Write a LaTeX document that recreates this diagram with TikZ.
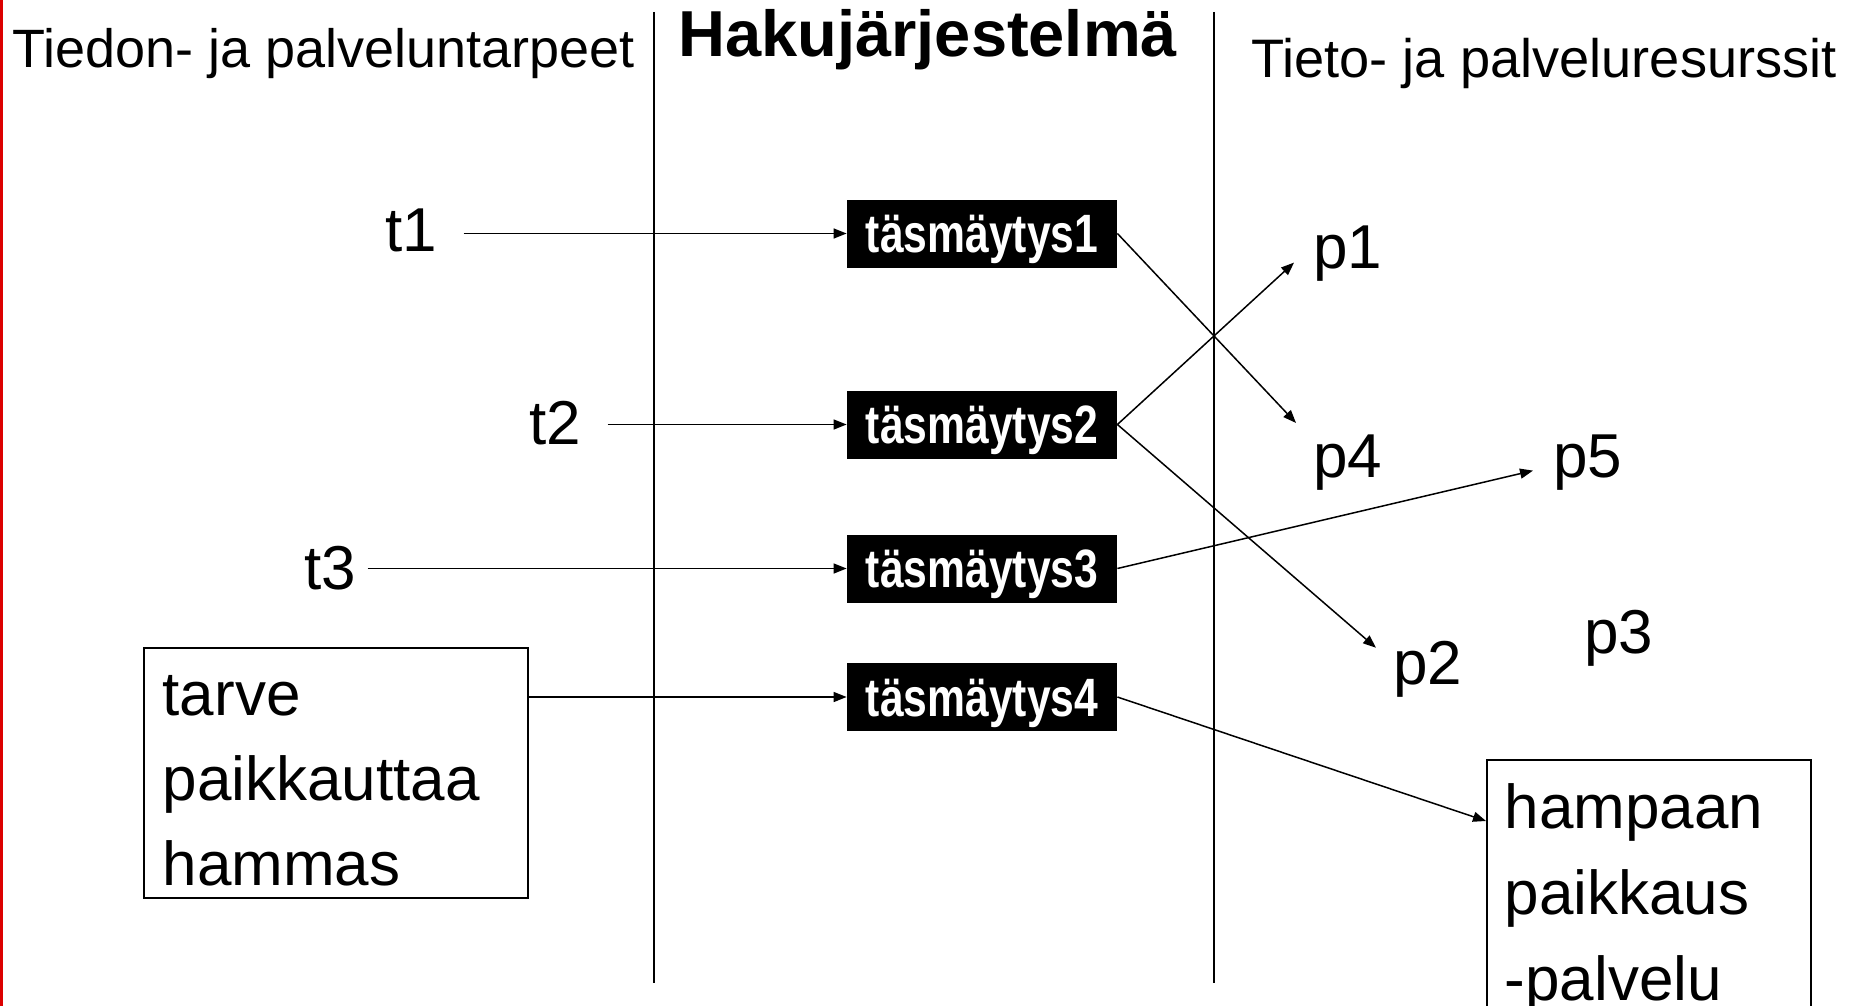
\documentclass[tikz,border=0pt]{standalone}
\usepackage{fontspec}
\setmainfont{Liberation Sans}
\usetikzlibrary{arrows.meta,calc}
\newcommand{\boxtxt}[1]{\scalebox{0.79}[1]{#1}}
\begin{document}
\begin{tikzpicture}[x=0.5pt,y=-0.5pt,
  lbl/.style={font=\fontsize{31}{37}\selectfont, inner sep=0pt, anchor=base west},
  hdr/.style={inner sep=0pt, anchor=base west},
  match/.style={fill=black, text=white, minimum width=135pt, minimum height=34pt, inner sep=0pt,
    text height=22pt, text depth=3pt,
    font=\fontsize{27}{30}\selectfont\bfseries},
  arr/.style={line width=0.75pt, -{Triangle[length=6.5pt,width=5pt]}},
  divider/.style={line width=0.75pt},
  textbox/.style={draw, line width=0.75pt, align=left, anchor=north west}
]
\clip (0,0) rectangle (1852,1006);
\fill[fill={rgb,255:red,220;green,0;blue,0}] (0,0) rectangle (3,1006);

% headers
\node[hdr, font=\fontsize{27}{32}\selectfont] (hleft) at (12,68) {Tiedon- ja palveluntarpeet};
\node[hdr, font=\fontsize{32.5}{38}\selectfont\bfseries] (hmid) at (678,57) {Hakujärjestelmä};
\node[hdr, font=\fontsize{27.1}{32}\selectfont] (hright) at (1251,78) {Tieto- ja palveluresurssit};

% dividers
\coordinate (d1t) at (654,12);
\coordinate (d1b) at (654,983);
\coordinate (d2t) at (1214,12);
\coordinate (d2b) at (1214,983);
\draw[divider] (d1t) -- (d1b);
\draw[divider] (d2t) -- (d2b);

% matching boxes
\node[match] (box1) at (982,233.5) {\boxtxt{täsmäytys1}};
\node[match] (box2) at (982,424.5) {\boxtxt{täsmäytys2}};
\node[match] (box3) at (982,568.5) {\boxtxt{täsmäytys3}};
\node[match] (box4) at (982,697) {\boxtxt{täsmäytys4}};

% needs
\node[lbl] (t1) at (385,251) {t1};
\node[lbl] (t2) at (529,444) {t2};
\node[lbl] (t3) at (304,589) {t3};
\node[textbox, minimum width=192pt, minimum height=125pt, text width=173pt, inner xsep=9.5pt,
  font=\fontsize{31}{42.3}\selectfont] (tarve) at (143,647) {\rule{0pt}{28pt}tarve\\paikkauttaa\\hammas};

% resources
\node[lbl] (p1) at (1313,268) {p1};
\node[lbl] (p4) at (1313,477) {p4};
\node[lbl] (p5) at (1553,477) {p5};
\node[lbl] (p2) at (1393,684) {p2};
\node[lbl] (p3) at (1584,653) {p3};
\node[textbox, text width=144pt, inner xsep=9pt, inner ysep=12pt,
  font=\fontsize{31}{43}\selectfont] (hamp) at (1486,759) {hampaan\\paikkaus\\-palvelu};

% connectors: needs -> matches
\draw[arr, shorten <=13pt] (box1.west -| t1.east) -- (box1.west);
\draw[arr, shorten <=13pt] (box2.west -| t2.east) -- (box2.west);
\draw[arr, shorten <=5.5pt] (box3.west -| t3.east) -- (box3.west);
\draw[arr] (box4.west -| tarve.east) -- (box4.west);

% connectors: matches -> resources
\draw[arr] (box1.east) -- ($(p4.north west)+(-17,-11)$);
\draw[arr] (box2.east) -- ($(p1.west)+(-19,9.5)$);
\draw[arr] (box2.east) -- ($(p2.west)+(-17,-21)$);
\draw[arr] (box3.east) -- ($(p5.west)+(-20,8.5)$);
\draw[arr] (box4.east) -- ($(hamp.north west)+(0,62)$);
\end{tikzpicture}
\end{document}
